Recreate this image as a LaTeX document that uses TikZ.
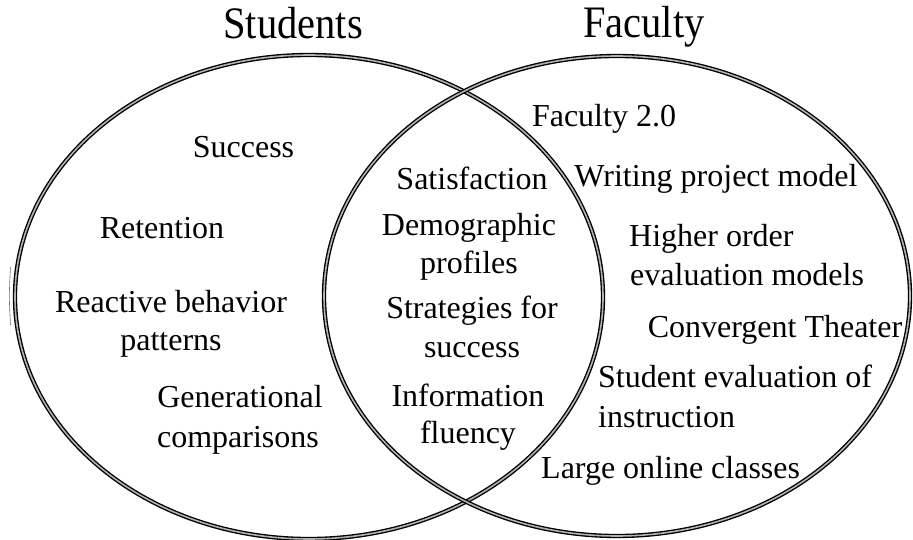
\documentclass[tikz,border=0pt]{standalone}
\usepackage{fontspec}
\setmainfont{Liberation Serif}
\begin{document}
\begin{tikzpicture}[x=1pt,y=-1pt,
  ring/.style={draw=black, line width=1.35pt, double=black!30, double distance=1.6pt},
  lbl/.style={font=\fontsize{32}{38}\selectfont, inner sep=0pt, anchor=base},
  lblw/.style={lbl, anchor=base west},
  ttl/.style={font=\fontsize{45}{50}\selectfont, inner sep=0pt, anchor=base}]
\useasboundingbox[fill=white] (0,0) rectangle (913,540);
% circles
\draw[ring] (309,297) ellipse [x radius=294pt, y radius=242pt];
\draw[ring] (617,296) ellipse [x radius=293pt, y radius=240pt];
\draw[line width=0.6pt, black!55] (10.5,267) .. controls (9,296) .. (10.5,325);
% titles
\node[ttl] (tstud) at (293,39) {\scalebox{0.9}[1]{Students}};
\node[ttl] (tfac) at (644,38) {\scalebox{0.9}[1]{Faculty}};
% students
\node[lbl] (success) at (243.5,158) {Success};
\node[lbl] (retention) at (162,239) {Retention};
\node[lbl] (reactive) at (171,312) {Reactive behavior};
\node[lbl] (patterns) at (171,350) {patterns};
\node[lbl] (gener) at (240,407) {Generational};
\node[lbl] (compar) at (238,447) {comparisons};
% both
\node[lbl] (satis) at (472,190) {Satisfaction};
\node[lbl] (demo) at (469,236) {Demographic};
\node[lbl] (profiles) at (469,273) {profiles};
\node[lbl] (strat) at (472,318) {Strategies for};
\node[lbl] (succ2) at (472,357) {success};
\node[lbl] (info) at (468,406) {Information};
\node[lbl] (fluency) at (468,443) {fluency};
% faculty
\node[lbl] (fac20) at (604,127) {Faculty 2.0};
\node[lbl] (writing) at (716,187) {Writing project model};
\node[lblw] (higher) at (629,247) {Higher order};
\node[lblw] (evalm) at (630,285) {evaluation models};
\node[lbl] (conv) at (775,337) {Convergent Theater};
\node[lblw] (stueval) at (598,387) {Student evaluation of};
\node[lblw] (instr) at (598,427) {instruction};
\node[lblw] (large) at (541,478) {Large online classes};
\end{tikzpicture}
\end{document}
